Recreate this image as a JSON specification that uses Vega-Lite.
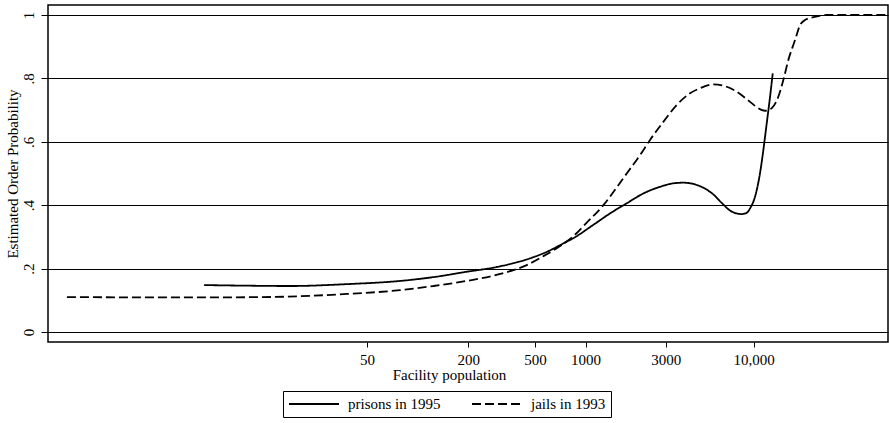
{
  "$schema": "https://vega.github.io/schema/vega-lite/v6.json",
  "width": 840,
  "height": 337,
  "autosize": {"type": "none"},
  "padding": {"left": 48, "top": 5, "right": 1, "bottom": 81},
  "background": "white",
  "config": {
    "font": "Liberation Serif",
    "view": {"stroke": "black", "strokeWidth": 1.5}
  },
  "data": {
    "values": [
      {"series": "prisons in 1995", "pop": 5.36, "prob": 0.148},
      {"series": "prisons in 1995", "pop": 10, "prob": 0.146},
      {"series": "prisons in 1995", "pop": 17.4, "prob": 0.145},
      {"series": "prisons in 1995", "pop": 38.0, "prob": 0.151},
      {"series": "prisons in 1995", "pop": 78.6, "prob": 0.161},
      {"series": "prisons in 1995", "pop": 124, "prob": 0.173},
      {"series": "prisons in 1995", "pop": 196, "prob": 0.19},
      {"series": "prisons in 1995", "pop": 296, "prob": 0.205},
      {"series": "prisons in 1995", "pop": 489, "prob": 0.236},
      {"series": "prisons in 1995", "pop": 560, "prob": 0.248},
      {"series": "prisons in 1995", "pop": 772, "prob": 0.285},
      {"series": "prisons in 1995", "pop": 845, "prob": 0.296},
      {"series": "prisons in 1995", "pop": 1112, "prob": 0.338},
      {"series": "prisons in 1995", "pop": 1397, "prob": 0.374},
      {"series": "prisons in 1995", "pop": 1757, "prob": 0.406},
      {"series": "prisons in 1995", "pop": 2207, "prob": 0.437},
      {"series": "prisons in 1995", "pop": 2773, "prob": 0.458},
      {"series": "prisons in 1995", "pop": 3328, "prob": 0.469},
      {"series": "prisons in 1995", "pop": 3818, "prob": 0.471},
      {"series": "prisons in 1995", "pop": 4797, "prob": 0.46},
      {"series": "prisons in 1995", "pop": 5757, "prob": 0.434},
      {"series": "prisons in 1995", "pop": 6605, "prob": 0.402},
      {"series": "prisons in 1995", "pop": 7240, "prob": 0.383},
      {"series": "prisons in 1995", "pop": 7938, "prob": 0.374},
      {"series": "prisons in 1995", "pop": 8497, "prob": 0.372},
      {"series": "prisons in 1995", "pop": 9105, "prob": 0.376},
      {"series": "prisons in 1995", "pop": 9524, "prob": 0.39},
      {"series": "prisons in 1995", "pop": 10200, "prob": 0.427},
      {"series": "prisons in 1995", "pop": 10920, "prob": 0.501},
      {"series": "prisons in 1995", "pop": 11430, "prob": 0.574},
      {"series": "prisons in 1995", "pop": 11970, "prob": 0.658},
      {"series": "prisons in 1995", "pop": 12530, "prob": 0.742},
      {"series": "prisons in 1995", "pop": 13000, "prob": 0.816},
      {"series": "jails in 1993", "pop": 0.818, "prob": 0.11},
      {"series": "jails in 1993", "pop": 4.02, "prob": 0.109},
      {"series": "jails in 1993", "pop": 12.0, "prob": 0.11},
      {"series": "jails in 1993", "pop": 38.0, "prob": 0.12},
      {"series": "jails in 1993", "pop": 78.6, "prob": 0.132},
      {"series": "jails in 1993", "pop": 124, "prob": 0.145},
      {"series": "jails in 1993", "pop": 196, "prob": 0.161},
      {"series": "jails in 1993", "pop": 310, "prob": 0.183},
      {"series": "jails in 1993", "pop": 446, "prob": 0.211},
      {"series": "jails in 1993", "pop": 560, "prob": 0.239},
      {"series": "jails in 1993", "pop": 705, "prob": 0.271},
      {"series": "jails in 1993", "pop": 845, "prob": 0.302},
      {"series": "jails in 1993", "pop": 1016, "prob": 0.345},
      {"series": "jails in 1993", "pop": 1276, "prob": 0.4},
      {"series": "jails in 1993", "pop": 1532, "prob": 0.456},
      {"series": "jails in 1993", "pop": 1757, "prob": 0.5},
      {"series": "jails in 1993", "pop": 2109, "prob": 0.558},
      {"series": "jails in 1993", "pop": 2419, "prob": 0.606},
      {"series": "jails in 1993", "pop": 2902, "prob": 0.663},
      {"series": "jails in 1993", "pop": 3486, "prob": 0.716},
      {"series": "jails in 1993", "pop": 4185, "prob": 0.753},
      {"series": "jails in 1993", "pop": 4797, "prob": 0.769},
      {"series": "jails in 1993", "pop": 5757, "prob": 0.781},
      {"series": "jails in 1993", "pop": 6605, "prob": 0.777},
      {"series": "jails in 1993", "pop": 7938, "prob": 0.758},
      {"series": "jails in 1993", "pop": 9524, "prob": 0.726},
      {"series": "jails in 1993", "pop": 10920, "prob": 0.703},
      {"series": "jails in 1993", "pop": 11700, "prob": 0.698},
      {"series": "jails in 1993", "pop": 12820, "prob": 0.706},
      {"series": "jails in 1993", "pop": 14030, "prob": 0.742},
      {"series": "jails in 1993", "pop": 15030, "prob": 0.795},
      {"series": "jails in 1993", "pop": 16100, "prob": 0.858},
      {"series": "jails in 1993", "pop": 17650, "prob": 0.921},
      {"series": "jails in 1993", "pop": 18890, "prob": 0.968},
      {"series": "jails in 1993", "pop": 20230, "prob": 0.984},
      {"series": "jails in 1993", "pop": 22680, "prob": 0.993},
      {"series": "jails in 1993", "pop": 27240, "prob": 1.0},
      {"series": "jails in 1993", "pop": 62230, "prob": 1.0}
    ]
  },
  "mark": {"type": "line", "interpolate": "monotone", "color": "black", "strokeWidth": 1.8},
  "encoding": {
    "x": {
      "field": "pop",
      "type": "quantitative",
      "scale": {"type": "log", "domain": [0.631, 63100], "nice": false},
      "axis": {
        "values": [50, 200, 500, 1000, 3000, 10000],
        "labelExpr": "datum.value == 10000 ? '10,000' : format(datum.value, 'd')",
        "title": "Facility population",
        "titleX": 401,
        "titleAlign": "center",
        "grid": false,
        "domain": false,
        "tickColor": "black",
        "tickSize": 5,
        "labelFontSize": 15,
        "labelColor": "black",
        "labelPadding": 5,
        "labelFlush": false,
        "titleFontSize": 15,
        "titleFontWeight": "normal",
        "titleColor": "black",
        "titlePadding": 0
      }
    },
    "y": {
      "field": "prob",
      "type": "quantitative",
      "scale": {"domain": [-0.0316, 1.0316], "nice": false, "zero": false},
      "axis": {
        "values": [0, 0.2, 0.4, 0.6, 0.8, 1],
        "labelExpr": "datum.value == 0 ? '0' : datum.value == 1 ? '1' : replace(format(datum.value, '.1f'), '0.', '.')",
        "labelAngle": -90,
        "labelAlign": "center",
        "labelBaseline": "bottom",
        "labelFontSize": 15,
        "labelColor": "black",
        "labelPadding": 5,
        "grid": true,
        "gridColor": "black",
        "gridOpacity": 1,
        "gridWidth": 1.1,
        "domain": false,
        "tickSize": 7,
        "tickColor": "black",
        "title": "Estimated Order Probability",
        "titleFontSize": 15,
        "titleFontWeight": "normal",
        "titleColor": "black",
        "titlePadding": 1
      }
    },
    "strokeDash": {
      "field": "series",
      "type": "nominal",
      "scale": {"domain": ["prisons in 1995", "jails in 1993"], "range": [[1, 0], [9, 4]]},
      "legend": {
        "title": null,
        "orient": "none",
        "legendX": 235,
        "legendY": 386,
        "direction": "horizontal",
        "strokeColor": "black",
        "fillColor": "white",
        "padding": 5,
        "symbolType": "stroke",
        "symbolSize": 2500,
        "symbolStrokeWidth": 1.8,
        "symbolStrokeColor": "black",
        "labelFontSize": 15,
        "labelColor": "black",
        "labelOffset": 8,
        "columnPadding": 30,
        "clipHeight": 16
      }
    }
  }
}
